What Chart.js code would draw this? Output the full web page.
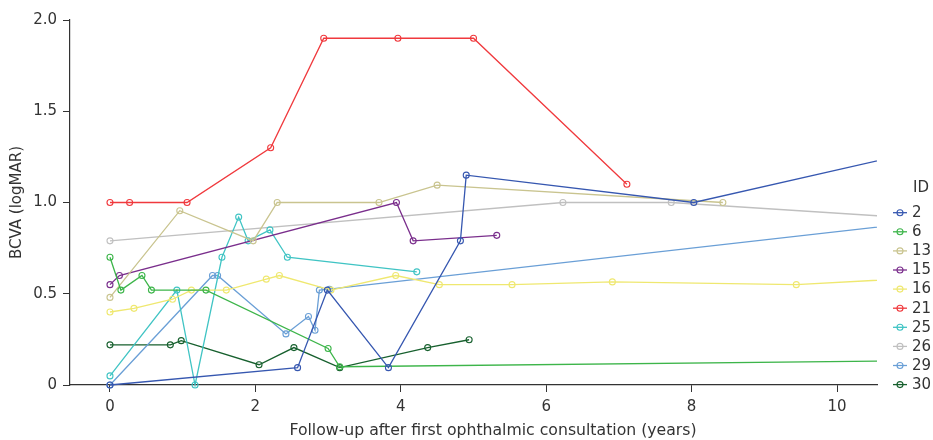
<!DOCTYPE html>
<html>
<head>
<meta charset="utf-8">
<script src="https://cdn.jsdelivr.net/npm/chart.js@4/dist/chart.umd.min.js"></script>
<style>
html,body{margin:0;padding:0;background:#fff;}
#wrap{width:933px;height:440px;}
</style>
</head>
<body>
<div id="wrap"><canvas id="c" width="933" height="440"></canvas></div>
<script>
// ===== data (years, logMAR) =====
const IDS = ['2','6','13','15','16','21','25','26','29','30'];
const COLORS = ['#3657b0','#3db54a','#c9c48f','#7a2e8c','#efe870','#f0393d','#40c4c4','#c0c0c0','#6a9fd6','#17602e'];

const X_2  = [0, 2.58, 2.99, 3.83, 4.82, 4.90, 8.03, 12];
const Y_2  = [0, 0.095, 0.52, 0.095, 0.79, 1.15, 1.0, 1.36];
const X_6  = [0, 0.15, 0.44, 0.57, 1.32, 3.0, 3.16, 12];
const Y_6  = [0.70, 0.52, 0.60, 0.52, 0.52, 0.20, 0.10, 0.137];
const X_13 = [0, 0.96, 1.97, 2.30, 3.70, 4.50, 8.43];
const Y_13 = [0.48, 0.955, 0.79, 1.0, 1.0, 1.095, 1.0];
const X_15 = [0, 0.13, 3.94, 4.17, 5.32];
const Y_15 = [0.55, 0.60, 1.0, 0.79, 0.82];
const X_16 = [0, 0.33, 0.86, 1.12, 1.60, 2.15, 2.33, 3.04, 3.93, 4.53, 5.53, 6.91, 9.44, 12];
const Y_16 = [0.40, 0.42, 0.47, 0.52, 0.52, 0.58, 0.60, 0.52, 0.60, 0.55, 0.55, 0.565, 0.55, 0.605];
const X_21 = [0, 0.27, 1.06, 2.21, 2.94, 3.96, 5.0, 7.11];
const Y_21 = [1.0, 1.0, 1.0, 1.30, 1.90, 1.90, 1.90, 1.10];
const X_25 = [0, 0.92, 1.17, 1.54, 1.77, 1.90, 2.20, 2.44, 4.22];
const Y_25 = [0.05, 0.52, 0, 0.70, 0.92, 0.79, 0.85, 0.70, 0.62];
const X_26 = [0, 6.23, 7.72, 12];
const Y_26 = [0.79, 1.0, 1.0, 0.89];
const X_29 = [0, 1.41, 1.48, 2.42, 2.73, 2.82, 2.88, 3.02, 12];
const Y_29 = [0, 0.60, 0.60, 0.28, 0.375, 0.30, 0.52, 0.525, 0.93];
const X_30 = [0, 0.83, 0.98, 2.05, 2.53, 3.16, 4.37, 4.94];
const Y_30 = [0.22, 0.22, 0.243, 0.111, 0.205, 0.095, 0.205, 0.248];

const XS = [X_2,X_6,X_13,X_15,X_16,X_21,X_25,X_26,X_29,X_30];
const YS = [Y_2,Y_6,Y_13,Y_15,Y_16,Y_21,Y_25,Y_26,Y_29,Y_30];

const X_TICKS = [0,2,4,6,8,10];
const Y_TICKS = [0,0.5,1.0,1.5,2.0];
const X_TITLE = 'Follow-up after first ophthalmic consultation (years)';

const FONT = "'DejaVu Sans', sans-serif";
const INK = '#333333';

const datasets = IDS.map((id,i)=>({
  label: id,
  data: XS[i].map((x,k)=>({x:x, y:YS[i][k]})),
  borderColor: COLORS[i],
  borderWidth: 1.3,
  pointRadius: 3,
  pointHoverRadius: 3,
  pointBorderWidth: 1.1,
  pointBorderColor: COLORS[i],
  pointBackgroundColor: 'rgba(0,0,0,0)',
  tension: 0,
  clip: {left:10, top:10, right:0, bottom:10}
}));

// ===== legend + x title drawn by hand =====
const idLegend = {
  id:'idLegend',
  afterDraw(chart){
    const ctx = chart.ctx;
    ctx.save();
    ctx.fillStyle = INK;
    ctx.textBaseline = 'middle';
    ctx.font = '15.7px ' + FONT;
    ctx.textAlign = 'center';
    ctx.fillText(X_TITLE, 493, 431);
    ctx.font = '15px ' + FONT;
    ctx.textAlign = 'left';
    ctx.fillText('ID', 913, 188);
    IDS.forEach((id,i)=>{
      const y = 212.7 + i*19.1;
      ctx.strokeStyle = COLORS[i];
      ctx.lineWidth = 1.3;
      ctx.beginPath(); ctx.moveTo(893,y); ctx.lineTo(907,y); ctx.stroke();
      ctx.lineWidth = 1.1;
      ctx.beginPath(); ctx.arc(900,y,3,0,Math.PI*2); ctx.stroke();
      ctx.fillStyle = INK;
      ctx.fillText(id, 912, y+0.5);
    });
    ctx.restore();
  }
};

Chart.defaults.font.family = FONT;
Chart.defaults.color = INK;

new Chart(document.getElementById('c'), {
  type:'line',
  data:{datasets},
  plugins:[idLegend],
  options:{
    responsive:false,
    animation:false,
    events:[],
    layout:{padding:{top:20,right:56,bottom:0,left:0}},
    plugins:{legend:{display:false},tooltip:{enabled:false}},
    scales:{
      x:{
        type:'linear', min:-0.55, max:10.55,
        afterBuildTicks:s=>{s.ticks = X_TICKS.map(v=>({value:v}));},
        afterFit:s=>{s.height = 55;},
        grid:{drawOnChartArea:false, drawTicks:true, tickLength:7, color:INK},
        border:{display:true, color:INK, width:1.2},
        ticks:{font:{size:15}, color:INK, padding:6, maxRotation:0},
        title:{display:false}
      },
      y:{
        type:'linear', min:0, max:2.0,
        afterBuildTicks:s=>{s.ticks = Y_TICKS.map(v=>({value:v}));},
        afterFit:s=>{s.width = 70;},
        grid:{drawOnChartArea:false, drawTicks:true, tickLength:7, color:INK},
        border:{display:true, color:INK, width:1.2},
        ticks:{font:{size:15}, color:INK, padding:6, callback:v=>v===0?'0':v.toFixed(1)},
        title:{display:true, text:'BCVA (logMAR)', font:{size:15}, color:INK, padding:{top:8,bottom:0}}
      }
    }
  }
});
</script>
</body>
</html>
